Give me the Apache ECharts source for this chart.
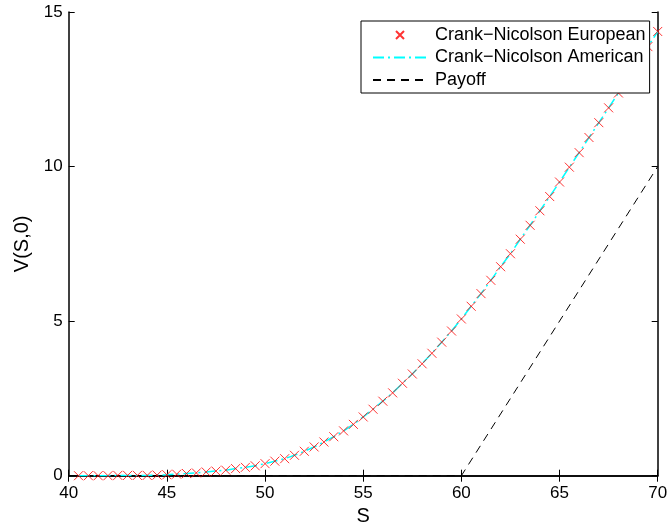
<!DOCTYPE html>
<html>
<head>
<meta charset="utf-8">
<script src="https://cdn.jsdelivr.net/npm/echarts@6/dist/echarts.min.js"></script>
<style>html,body{margin:0;padding:0;background:#fff}#c{width:668px;height:524px}</style>
</head>
<body>
<div id="c"></div>
<script>
var sGrid = [40.5,41,41.5,42,42.5,43,43.5,44,44.5,45,45.5,46,46.5,47,47.5,48,48.5,49,49.5,50,
  50.5,51,51.5,52,52.5,53,53.5,54,54.5,55,55.5,56,56.5,57,57.5,58,58.5,59,59.5,60,
  60.5,61,61.5,62,62.5,63,63.5,64,64.5,65,65.5,66,66.5,67,67.5,68,68.5,69,69.5,70];
var europeanV = [0.00,0.00,0.00,0.00,0.01,0.01,0.01,0.01,0.02,0.03,0.05,0.07,0.09,0.12,0.15,0.18,0.23,0.27,0.32,0.39,
  0.47,0.55,0.66,0.79,0.93,1.09,1.26,1.45,1.66,1.90,2.15,2.41,2.68,2.99,3.29,3.62,3.96,4.32,4.68,5.07,
  5.48,5.89,6.32,6.76,7.18,7.65,8.10,8.57,9.03,9.50,9.98,10.45,10.94,11.42,11.90,12.38,12.87,13.37,13.88,14.37];
var americanV = [0.00,0.00,0.00,0.00,0.01,0.01,0.01,0.01,0.02,0.03,0.05,0.07,0.09,0.12,0.15,0.18,0.23,0.27,0.32,0.39,
  0.47,0.55,0.66,0.79,0.93,1.09,1.26,1.45,1.66,1.90,2.15,2.41,2.68,2.99,3.29,3.62,3.96,4.32,4.68,5.07,
  5.48,5.89,6.32,6.76,7.18,7.65,8.10,8.57,9.03,9.50,9.98,10.45,10.94,11.42,11.90,12.38,12.87,13.37,13.88,14.37];
var payoffS = [40, 60, 70];
var payoffV = [0, 0, 10];
var xTicks = [40, 45, 50, 55, 60, 65, 70];
var yTicks = [0, 5, 10, 15];
var names = ['Crank\u2212Nicolson European', 'Crank\u2212Nicolson American', 'Payoff'];

function pairs(xs, ys) { return xs.map(function (x, i) { return [x, ys[i]]; }); }

var font = 'Liberation Sans, Arial, Helvetica, sans-serif';
var chart = echarts.init(document.getElementById('c'), null, {renderer: 'canvas'});
var axisCommon = {
  type: 'value',
  axisLine: {show: true, lineStyle: {color: '#000', width: 1.5}},
  axisTick: {show: true, inside: true, length: 6, lineStyle: {color: '#000', width: 1}},
  splitLine: {show: false}
};
chart.setOption({
  animation: false,
  backgroundColor: '#fff',
  grid: {left: 68.7, right: 10.3, top: 12, bottom: 48.3, containLabel: false, outerBoundsMode: 'none'},
  xAxis: [
    Object.assign({}, axisCommon, {
      min: xTicks[0], max: xTicks[xTicks.length - 1], interval: 5, position: 'bottom',
      name: 'S', nameLocation: 'middle', nameGap: 27,
      nameTextStyle: {color: '#000', fontSize: 20, fontFamily: font},
      axisLabel: {color: '#000', fontSize: 17, fontFamily: font, margin: 9}
    }),
    Object.assign({}, axisCommon, {
      min: xTicks[0], max: xTicks[xTicks.length - 1], interval: 5, position: 'top',
      axisLabel: {show: false}
    })
  ],
  yAxis: [
    Object.assign({}, axisCommon, {
      min: yTicks[0], max: yTicks[yTicks.length - 1], interval: 5, position: 'left',
      name: 'V(S,0)', nameLocation: 'middle', nameGap: 32,
      nameTextStyle: {color: '#000', fontSize: 20, fontFamily: font},
      axisLabel: {color: '#000', fontSize: 17, fontFamily: font, margin: 6}
    }),
    Object.assign({}, axisCommon, {
      min: yTicks[0], max: yTicks[yTicks.length - 1], interval: 5, position: 'right',
      axisLabel: {show: false}
    })
  ],
  legend: {
    orient: 'vertical',
    left: 361, top: 21,
    padding: [4, 4, 3, 11],
    itemWidth: 54, itemHeight: 8, itemGap: 2.5,
    backgroundColor: '#fff',
    borderColor: '#000', borderWidth: 1,
    textStyle: {color: '#000', fontSize: 18, fontFamily: font, lineHeight: 20, padding: [0, 0, 0, 3]},
    data: [
      {name: names[0]},
      {name: names[1], itemStyle: {opacity: 0}},
      {name: names[2], itemStyle: {opacity: 0}}
    ],
    z: 10
  },
  series: [
    {
      name: names[2], type: 'line', data: pairs(payoffS, payoffV),
      showSymbol: false, symbol: 'none',
      lineStyle: {color: '#000', width: 1, type: [8, 6]},
      itemStyle: {color: '#000'},
      z: 2
    },
    {
      name: names[1], type: 'line', data: pairs(sGrid, americanV),
      showSymbol: false, symbol: 'none',
      lineStyle: {color: '#00ffff', width: 1.5, type: [11, 4, 2, 4]},
      itemStyle: {color: '#00ffff'},
      z: 3
    },
    {
      name: names[0], type: 'scatter', data: pairs(sGrid, europeanV),
      symbol: 'path://M0,0L10,10M10,0L0,10', symbolSize: 9,
      itemStyle: {color: 'none', borderColor: '#ff0000', borderWidth: 1},
      z: 4
    }
  ]
});
</script>
</body>
</html>
